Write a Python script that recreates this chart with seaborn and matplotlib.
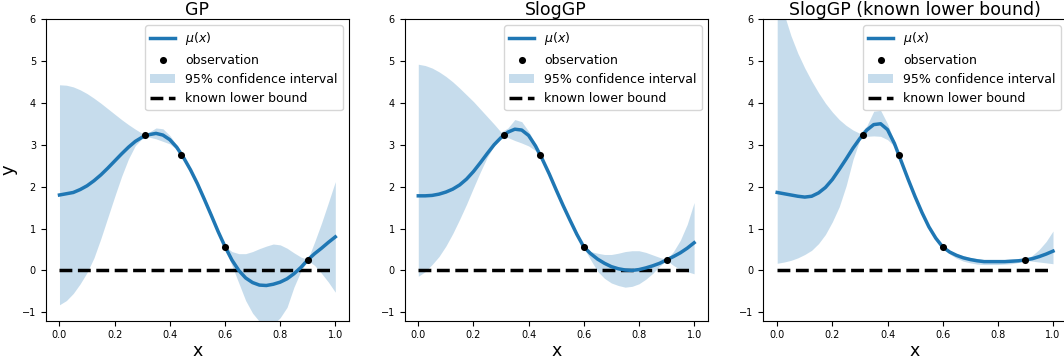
import numpy as np
import pandas as pd
import matplotlib
matplotlib.use("Agg")
import matplotlib.pyplot as plt
import seaborn as sns

# ---------------- data ----------------
x_grid = [0.000, 0.025, 0.050, 0.075, 0.100, 0.125, 0.150, 0.175, 0.200, 0.225,
          0.250, 0.275, 0.300, 0.325, 0.350, 0.375, 0.400, 0.425, 0.450, 0.475,
          0.500, 0.525, 0.550, 0.575, 0.600, 0.625, 0.650, 0.675, 0.700, 0.725,
          0.750, 0.775, 0.800, 0.825, 0.850, 0.875, 0.900, 0.925, 0.950, 0.975,
          1.000]

obs_x = [0.31, 0.44, 0.60, 0.90]
obs_y = [3.22, 2.75, 0.55, 0.25]
lower_bound = 0.0

titles = ["GP", "SlogGP", "SlogGP (known lower bound)"]

gp_mean = [1.80, 1.83, 1.86, 1.93, 2.02, 2.14, 2.28, 2.44, 2.61, 2.78,
           2.94, 3.08, 3.18, 3.24, 3.27, 3.23, 3.12, 2.94, 2.69, 2.40,
           2.07, 1.70, 1.32, 0.93, 0.57, 0.25, 0.00, -0.18, -0.29, -0.35,
           -0.36, -0.33, -0.28, -0.20, -0.08, 0.07, 0.25, 0.40, 0.53, 0.67,
           0.80]
gp_upper = [4.43, 4.42, 4.38, 4.31, 4.22, 4.11, 3.99, 3.86, 3.73, 3.60,
            3.48, 3.37, 3.27, 3.30, 3.40, 3.38, 3.22, 2.99, 2.72, 2.44,
            2.12, 1.76, 1.38, 0.98, 0.58, 0.45, 0.40, 0.40, 0.45, 0.52,
            0.58, 0.63, 0.61, 0.53, 0.42, 0.32, 0.26, 0.68, 1.13, 1.62,
            2.12]
gp_lower = [-0.82, -0.72, -0.55, -0.32, -0.05, 0.30, 0.76, 1.26, 1.76, 2.24,
            2.66, 2.98, 3.15, 3.18, 3.14, 3.08, 3.02, 2.89, 2.66, 2.36,
            2.02, 1.64, 1.26, 0.88, 0.56, 0.12, -0.30, -0.72, -1.02, -1.22,
            -1.30, -1.29, -1.13, -0.88, -0.40, -0.02, 0.24, 0.12, -0.07, -0.28,
            -0.52]

slog_mean = [1.78, 1.78, 1.79, 1.82, 1.87, 1.94, 2.04, 2.18, 2.36, 2.57,
             2.79, 3.00, 3.17, 3.30, 3.37, 3.35, 3.22, 2.97, 2.65, 2.30,
             1.92, 1.55, 1.20, 0.86, 0.56, 0.40, 0.27, 0.17, 0.09, 0.04,
             0.01, 0.00, 0.02, 0.06, 0.11, 0.17, 0.25, 0.33, 0.42, 0.53,
             0.66]
slog_upper = [4.92, 4.89, 4.83, 4.74, 4.63, 4.50, 4.35, 4.19, 4.03, 3.85,
              3.67, 3.49, 3.30, 3.40, 3.60, 3.55, 3.32, 3.02, 2.69, 2.34,
              1.96, 1.59, 1.24, 0.90, 0.58, 0.45, 0.41, 0.38, 0.38, 0.41,
              0.45, 0.47, 0.47, 0.43, 0.37, 0.31, 0.26, 0.45, 0.72, 1.10,
              1.62]
slog_lower = [-0.14, -0.03, 0.14, 0.33, 0.58, 0.88, 1.22, 1.58, 1.97, 2.35,
              2.70, 2.98, 3.15, 3.17, 3.10, 3.04, 2.97, 2.86, 2.60, 2.26,
              1.88, 1.51, 1.16, 0.82, 0.54, 0.25, -0.02, -0.19, -0.30, -0.36,
              -0.40, -0.38, -0.32, -0.21, -0.07, 0.10, 0.24, 0.12, 0.02, -0.03,
              -0.08]

slogkb_mean = [1.86, 1.83, 1.80, 1.77, 1.75, 1.77, 1.85, 1.98, 2.17, 2.41,
               2.66, 2.92, 3.15, 3.35, 3.48, 3.50, 3.36, 3.03, 2.60, 2.17,
               1.76, 1.38, 1.04, 0.77, 0.56, 0.44, 0.36, 0.30, 0.26, 0.23,
               0.21, 0.21, 0.21, 0.21, 0.22, 0.23, 0.25, 0.28, 0.33, 0.39,
               0.46]
slogkb_upper = [6.65, 6.12, 5.60, 5.18, 4.83, 4.52, 4.24, 3.99, 3.78, 3.60,
                3.46, 3.35, 3.27, 3.45, 3.80, 3.82, 3.50, 3.08, 2.63, 2.20,
                1.79, 1.40, 1.06, 0.79, 0.57, 0.47, 0.40, 0.35, 0.31, 0.28,
                0.26, 0.26, 0.26, 0.26, 0.27, 0.27, 0.26, 0.36, 0.50, 0.69,
                0.94]
slogkb_lower = [0.17, 0.20, 0.24, 0.30, 0.38, 0.48, 0.64, 0.86, 1.16, 1.52,
                2.02, 2.65, 3.12, 3.20, 3.21, 3.20, 3.12, 2.96, 2.56, 2.13,
                1.72, 1.34, 1.00, 0.73, 0.55, 0.39, 0.29, 0.22, 0.18, 0.15,
                0.14, 0.14, 0.14, 0.15, 0.16, 0.19, 0.24, 0.22, 0.20, 0.18,
                0.16]

panels = [(gp_mean, gp_lower, gp_upper),
          (slog_mean, slog_lower, slog_upper),
          (slogkb_mean, slogkb_lower, slogkb_upper)]

# ---------------- figure ----------------
BLUE = "#1f77b4"
W, H = 1064, 360
fig = plt.figure(figsize=(W / 100, H / 100), dpi=100)
lefts_px = [45.7, 404.5, 763.4]
ax_w_px = 303.4
bottom = (H - 320.7) / H
height = (320.7 - 19.0) / H

for i, (mean, lower, upper) in enumerate(panels):
    ax = fig.add_axes([lefts_px[i] / W, bottom, ax_w_px / W, height])
    ax.fill_between(x_grid, lower, upper, color=BLUE, alpha=0.25,
                    linewidth=0, label="95% confidence interval", zorder=1)
    sns.lineplot(x=x_grid, y=[lower_bound] * len(x_grid), ax=ax, color="k",
                 linestyle="--", linewidth=2.5, label="known lower bound",
                 sort=False, errorbar=None, zorder=2)
    sns.lineplot(x=x_grid, y=mean, ax=ax, color=BLUE, linewidth=2.5,
                 label=r"$\mu(x)$", sort=False, errorbar=None, zorder=3)
    sns.scatterplot(x=obs_x, y=obs_y, ax=ax, color="k", s=26, linewidth=0,
                    label="observation", zorder=4)

    handles, labels = ax.get_legend_handles_labels()
    hmap = dict(zip(labels, handles))
    order = [r"$\mu(x)$", "observation", "95% confidence interval",
             "known lower bound"]
    ax.legend([hmap[k] for k in order], order, loc="upper right", fontsize=9)

    ax.set_xlim(-0.05, 1.05)
    ax.set_ylim(-1.2, 6)
    ax.set_xticks([0.0, 0.2, 0.4, 0.6, 0.8, 1.0])
    ax.set_yticks([-1, 0, 1, 2, 3, 4, 5, 6])
    ax.tick_params(labelsize=7)
    ax.set_title(titles[i], fontsize=12.5, pad=2.5)
    ax.set_xlabel("x", fontsize=12.5, labelpad=1)
    if i == 0:
        ax.set_ylabel("y", fontsize=13, labelpad=3)
    else:
        ax.set_ylabel("")

fig.savefig("out.png", dpi=100)
